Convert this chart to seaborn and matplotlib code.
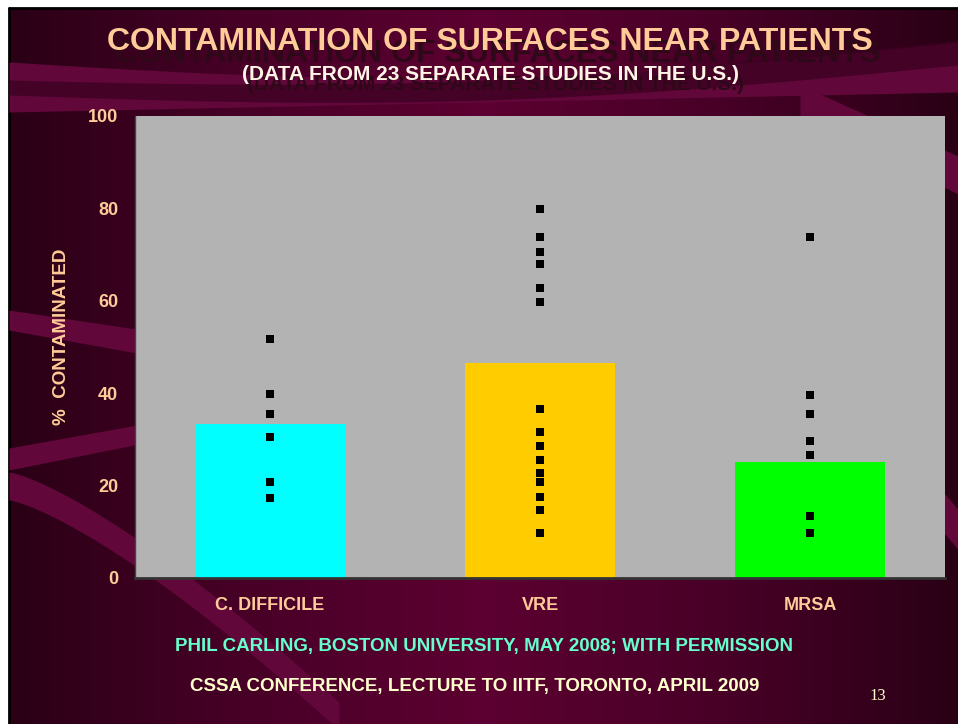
import numpy as np
import pandas as pd
import seaborn as sns
import matplotlib.pyplot as plt
from matplotlib.colors import LinearSegmentedColormap

# data
categories = ['C. DIFFICILE', 'VRE', 'MRSA']
mean_pct = [33.3, 46.5, 25.1]
cdiff_pts = [51.7, 39.8, 35.6, 30.6, 20.8, 17.3]
vre_pts = [79.9, 73.9, 70.6, 68.0, 62.8, 59.7, 36.6, 31.5, 28.6, 25.5, 22.8, 20.8, 17.6, 14.8, 9.7]
mrsa_pts = [73.9, 39.7, 35.6, 29.7, 26.7, 13.5, 9.7]
bar_colors = ['#00ffff', '#ffcc00', '#00ff00']

bars = pd.DataFrame({'organism': categories, 'pct': mean_pct})
studies = pd.DataFrame({
    'organism': ['C. DIFFICILE'] * len(cdiff_pts) + ['VRE'] * len(vre_pts) + ['MRSA'] * len(mrsa_pts),
    'pct': cdiff_pts + vre_pts + mrsa_pts,
})

sns.set_theme(style='white')
plt.rcParams['font.family'] = ['Liberation Sans', 'DejaVu Sans']

W, H = 958, 724
fig = plt.figure(figsize=(W / 100, H / 100), dpi=100, facecolor='white')

# slide background
bg = fig.add_axes([0, 0, 1, 1], zorder=-10)
bg.set_xlim(0, W)
bg.set_ylim(H, 0)
bg.axis('off')
cmap = LinearSegmentedColormap.from_list('slide', ['#2a0015', '#480027', '#5c0031', '#480027', '#2a0015'])
grad = np.tile(np.linspace(0, 1, 256), (2, 1))
bg.imshow(grad, extent=[9, W, H, 8], aspect='auto', cmap=cmap, zorder=0)
bg.plot([9, W], [8, 8], color='black', lw=2, zorder=1)
bg.plot([9, 9], [8, H], color='black', lw=2, zorder=1)

band = '#62073a'
# top swoosh behind title
xt = np.linspace(9, W, 200)
u = (xt - 9) / (W - 9)
bg.fill_between(xt, 62 - 20 * u + 25 * np.sin(u * np.pi), 112 - 20 * u, color=band, zorder=1, lw=0)
bg.fill_between(xt, 80 - 40 * u + 20 * np.sin(u * np.pi), 95 - 30 * u + 20 * np.sin(u * np.pi),
                color='#3a0020', zorder=1, lw=0, alpha=0.7)
xr = np.linspace(800, W, 40)
bg.fill_between(xr, 85 + (xr - 800) * 0.45, 115 + (xr - 800) * 0.5, color=band, zorder=1, lw=0)
# left side bands
xl = np.linspace(9, 140, 50)
bg.fill_between(xl, 310 + (xl - 9) * 0.15, 330 + (xl - 9) * 0.18, color=band, zorder=1, lw=0)
bg.fill_between(xl, 448 - (xl - 9) * 0.18, 470 - (xl - 9) * 0.2, color=band, zorder=1, lw=0)
# big curve lower left
t = np.linspace(0, 1, 200)
cx = 9 + 330 * t
cy_top = 500 + 230 * t ** 1.3
bg.fill_between(cx, cy_top - 28, cy_top, color=band, zorder=1, lw=0)
# right side band
xr = np.linspace(900, W, 30)
bg.fill_between(xr, 440 + (xr - 900) * 1.2, 480 + (xr - 900) * 1.2, color=band, zorder=1, lw=0)

# chart area
ax = fig.add_axes([135 / W, 1 - 578 / H, 810 / W, 462 / H])
ax.set_facecolor('#b3b3b3')
sns.barplot(data=bars, x='organism', y='pct', hue='organism', palette=bar_colors,
            order=categories, width=0.555, saturation=1, legend=False, linewidth=0, ax=ax, zorder=2)
sns.stripplot(data=studies, x='organism', y='pct', order=categories, jitter=False,
              marker='s', size=6, color='black', linewidth=0, ax=ax, zorder=3)

ax.set_xlim(-0.5, 2.5)
ax.set_ylim(0, 100)
ax.set_yticks([0, 20, 40, 60, 80, 100])
ax.set_xticks([-0.5, 0.5, 1.5, 2.5], minor=True)
ax.tick_params(axis='x', which='major', length=0, pad=14)
ax.tick_params(axis='x', which='minor', length=8, width=1, color='#222222', direction='out')
ax.tick_params(axis='y', length=8, width=1, color='#222222', direction='out', pad=4)
for lbl in ax.get_xticklabels() + ax.get_yticklabels():
    lbl.set_color('#ffcc99')
    lbl.set_fontweight('bold')
    lbl.set_fontsize(13)
ax.set_xlabel('')
ax.set_ylabel('%  CONTAMINATED', color='#ffcc99', fontsize=13.5, fontweight='bold')
ax.yaxis.set_label_coords(-(135 - 70) / 810, (578 - 337) / 462)
for side in ['top', 'right']:
    ax.spines[side].set_visible(False)
ax.spines['left'].set_color('#444444')
ax.spines['bottom'].set_color('#333333')
ax.spines['bottom'].set_linewidth(2)
ax.spines['left'].set_linewidth(1)

# titles and notes (dark copies are the slide's drop shadow)
fig.text(498 / W, 1 - 54 / H, 'CONTAMINATION OF SURFACES NEAR PATIENTS', ha='center', va='center',
         color='#2e0818', fontsize=23, fontweight='bold', zorder=1)
fig.text(490 / W, 1 - 42 / H, 'CONTAMINATION OF SURFACES NEAR PATIENTS', ha='center', va='center',
         color='#ffcc99', fontsize=23, fontweight='bold')
fig.text(496 / W, 1 - 84 / H, '(DATA FROM 23 SEPARATE STUDIES IN THE U.S.)', ha='center', va='center',
         color='#2e0818', fontsize=15, fontweight='bold')
fig.text(490 / W, 1 - 75 / H, '(DATA FROM 23 SEPARATE STUDIES IN THE U.S.)', ha='center', va='center',
         color='#fff4e6', fontsize=15, fontweight='bold')
fig.text(484 / W, 1 - 647 / H, 'PHIL CARLING, BOSTON UNIVERSITY, MAY 2008; WITH PERMISSION',
         ha='center', va='center', color='#66ffcc', fontsize=13.5, fontweight='bold')
fig.text(475 / W, 1 - 686 / H, 'CSSA CONFERENCE, LECTURE TO IITF, TORONTO, APRIL 2009',
         ha='center', va='center', color='#ffffcc', fontsize=13.5, fontweight='bold')
fig.text(878 / W, 1 - 696 / H, '13', ha='center', va='center', color='#ffffcc', fontsize=12,
         family=['Liberation Serif', 'DejaVu Serif'])

fig.savefig('out.png', dpi=100, facecolor='white')
